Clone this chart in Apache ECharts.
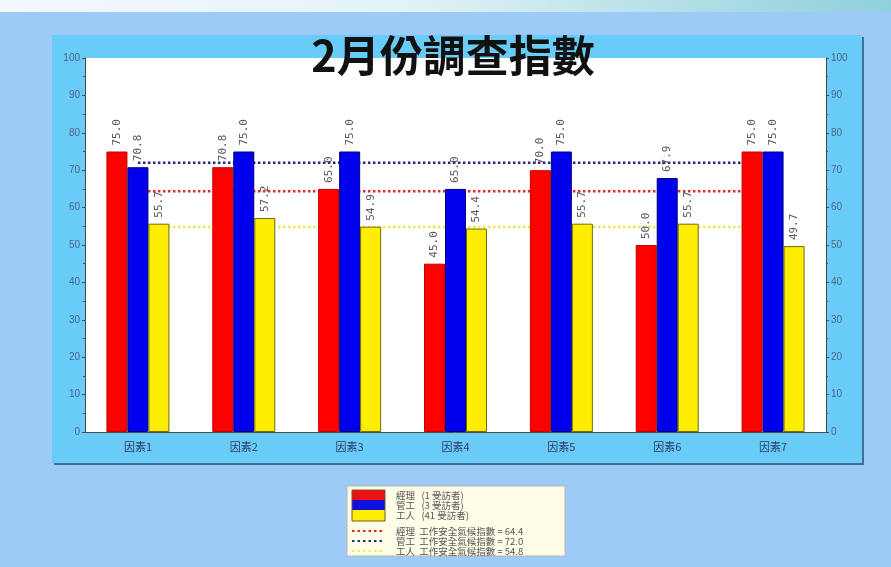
<!DOCTYPE html>
<html>
<head>
<meta charset="utf-8">
<style>
  html, body { margin: 0; padding: 0; background: #9dcaf6; }
  #chart { width: 891px; height: 567px; }
</style>
<script src="https://cdn.jsdelivr.net/npm/echarts@6/dist/echarts.min.js"></script>
</head>
<body>
<div id="chart"></div>
<script>
// Factors surveyed
const categories = ['因素1', '因素2', '因素3', '因素4', '因素5', '因素6', '因素7'];

// Index per factor for each respondent group
const managerValues = [75.0, 70.8, 65.0, 45.0, 70.0, 50.0, 75.0];
const foremanValues = [70.8, 75.0, 75.0, 65.0, 75.0, 67.9, 75.0];
const workerValues  = [55.7, 57.2, 54.9, 54.4, 55.7, 55.7, 49.7];

// Overall safety climate index per group
const managerIndex = 64.4;
const foremanIndex = 72.0;
const workerIndex  = 54.8;

// Legend texts
const legendRows = [
  '經理   (1 受訪者)',
  '管工   (3 受訪者)',
  '工人   (41 受訪者)',
  '經理  工作安全氣候指數 = 64.4',
  '管工  工作安全氣候指數 = 72.0',
  '工人  工作安全氣候指數 = 54.8'
];

const yTicks = { min: 0, max: 100, interval: 10 };

const CJK = '"Noto Sans CJK TC", "Noto Sans CJK SC", sans-serif';

const chart = echarts.init(document.getElementById('chart'), null, { renderer: 'canvas' });

const valueLabel = {
  show: true,
  position: 'top',
  rotate: 90,
  align: 'left',
  verticalAlign: 'middle',
  distance: 6,
  fontSize: 11,
  color: '#5a5a5a',
  fontFamily: '"DejaVu Sans Mono", monospace',
  formatter: p => p.value.toFixed(1)
};

function barSeries(name, data, color, border) {
  return {
    name, type: 'bar', data, z: 3,
    barWidth: 21, barGap: '0%',
    itemStyle: { color, borderColor: border, borderWidth: 1 },
    label: valueLabel
  };
}

function refSeries(name, value, color) {
  return {
    name, type: 'line', z: 2,
    data: categories.map(() => value),
    symbol: 'none', silent: true,
    lineStyle: { color, width: 2.5, type: [2.5, 2.5] }
  };
}

const yAxisBase = {
  type: 'value', ...yTicks,
  axisLine: { show: true, lineStyle: { color: '#4b4b4b', width: 1 } },
  axisTick: { show: true, length: 3, lineStyle: { color: '#4b4b4b' } },
  minorTick: { show: true, splitNumber: 2, length: 2, lineStyle: { color: '#4b4b4b' } },
  splitLine: { show: false },
  axisLabel: { fontSize: 10, color: '#4a6688', margin: 5, fontFamily: 'Liberation Sans, sans-serif' }
};

// Legend drawn as a framed box below the chart panel
const lg = { x: 347, y: 486, w: 218, h: 70 };
const legendGraphics = [
  { type: 'rect', shape: { x: lg.x, y: lg.y, width: lg.w, height: lg.h },
    style: { fill: '#fffde8', stroke: '#b8b8a8', lineWidth: 1 } },
  { type: 'rect', shape: { x: 352, y: 490, width: 33, height: 10 }, style: { fill: '#ee1111' } },
  { type: 'rect', shape: { x: 352, y: 500, width: 33, height: 10 }, style: { fill: '#1111dd' } },
  { type: 'rect', shape: { x: 352, y: 510, width: 33, height: 11 }, style: { fill: '#ffee00' } },
  { type: 'rect', shape: { x: 352, y: 490, width: 33, height: 31 }, style: { fill: 'none', stroke: '#6a5a2a', lineWidth: 1 } },
  { type: 'line', shape: { x1: 352, y1: 531, x2: 385, y2: 531 }, style: { stroke: '#dd2222', lineWidth: 2, lineDash: [2.5, 3] } },
  { type: 'line', shape: { x1: 352, y1: 541, x2: 385, y2: 541 }, style: { stroke: '#2a2a88', lineWidth: 2, lineDash: [2.5, 3] } },
  { type: 'line', shape: { x1: 352, y1: 551, x2: 385, y2: 551 }, style: { stroke: '#eeee55', lineWidth: 2, lineDash: [2.5, 3] } }
];
const legendRowY = [495, 505, 515, 531, 541, 551];
legendRows.forEach((t, i) => {
  legendGraphics.push({
    type: 'text', x: 396, y: legendRowY[i],
    style: { text: t, fontSize: 9.5, fill: '#555555', fontFamily: CJK, verticalAlign: 'middle' }
  });
});

chart.setOption({
  backgroundColor: '#9dcaf6',
  animation: false,
  title: {
    text: '2月份調查指數',
    left: 448, top: 29, textAlign: 'center',
    textStyle: { fontSize: 43, fontWeight: 'bold', color: '#111111', fontFamily: CJK }
  },
  graphic: [
    // top highlight strip
    { type: 'rect', z: -10, shape: { x: 0, y: 0, width: 891, height: 12 },
      style: { fill: new echarts.graphic.LinearGradient(0, 0, 1, 0, [
        { offset: 0, color: '#f4f9ff' }, { offset: 0.45, color: '#e3f3f6' }, { offset: 1, color: '#8fd0dc' }]) } },
    // chart panel with dark drop edge
    { type: 'rect', z: -9, shape: { x: 54, y: 37, width: 810, height: 428 }, style: { fill: '#3f6f96' } },
    { type: 'rect', z: -8, shape: { x: 52, y: 35, width: 810, height: 428 }, style: { fill: '#69cbf8' } },
    ...legendGraphics
  ],
  grid: {
    left: 85, right: 65, top: 58, bottom: 135,
    show: true, backgroundColor: '#ffffff', borderWidth: 0
  },
  xAxis: {
    type: 'category', data: categories,
    axisLine: { show: true, lineStyle: { color: '#4b4b4b' } },
    axisTick: { show: false },
    axisLabel: { fontSize: 11, color: '#2d3d66', margin: 9, fontFamily: CJK }
  },
  yAxis: [
    { ...yAxisBase, position: 'left' },
    { ...yAxisBase, position: 'right' }
  ],
  series: [
    refSeries('經理 工作安全氣候指數', managerIndex, '#e02a2a'),
    refSeries('管工 工作安全氣候指數', foremanIndex, '#262680'),
    refSeries('工人 工作安全氣候指數', workerIndex, '#e8e84a'),
    barSeries('經理', managerValues, '#ff0000', '#c00000'),
    barSeries('管工', foremanValues, '#0000ee', '#00007a'),
    barSeries('工人', workerValues, '#ffee00', '#6e6a10')
  ]
});
</script>
</body>
</html>
